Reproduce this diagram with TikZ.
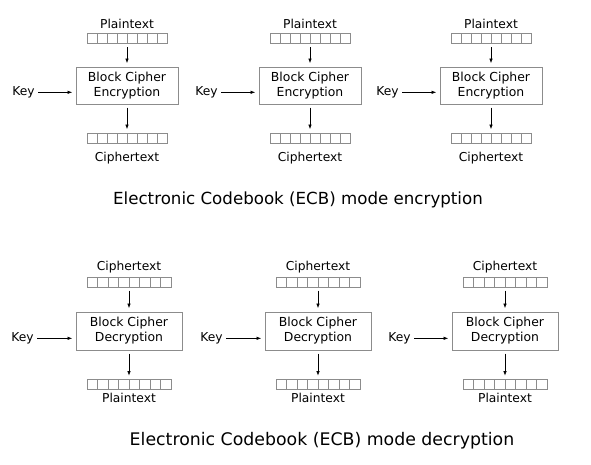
\documentclass[tikz,border=0pt]{standalone}
\usepackage{fontspec}
\setmainfont{DejaVu Sans}
\usetikzlibrary{calc}
\usetikzlibrary{arrows.meta}

\tikzset{
  lbl/.style={font=\fontsize{9.2}{11}\selectfont, inner sep=0pt, anchor=base},
  cipherbox/.style={draw=black!45, line width=0.6pt, align=center, inner sep=0pt,
    minimum width=76.5pt, minimum height=27.75pt, font=\fontsize{9.3}{11.25}\selectfont},
  register/.style={draw=black!45, line width=0.6pt, inner sep=0pt,
    minimum width=60pt, minimum height=7.5pt,
    path picture={\foreach \k in {1,...,7}{
      \draw[black!45, line width=0.6pt]
        ($(path picture bounding box.south west)!\k/8!(path picture bounding box.south east)$) --
        ($(path picture bounding box.north west)!\k/8!(path picture bounding box.north east)$);}}},
  flow/.style={-{Latex[length=3.5pt,width=2.6pt]}, line width=0.5pt, shorten >=2.5pt, shorten <=2.5pt},
  headline/.style={font=\fontsize{12.5}{15}\selectfont, inner sep=0pt, anchor=base}
}

\begin{document}
\begin{tikzpicture}[x=0.75pt,y=-0.75pt]
  \useasboundingbox (0,0) rectangle (591,464);
  % encryption, block 1
  \node[lbl] (pa1) at (127,28) {Plaintext};
  \node[register] (ra1) at (127,38.5) {};
  \node[cipherbox] (ea1) at (127,85.5) {Block Cipher\\Encryption};
  \node[register] (rb1) at (127,138) {};
  \node[lbl] (ca1) at (127,161) {Ciphertext};
  \node[lbl] (ka1) at (23.5,95.5) {Key};
  \draw[flow] (ra1) -- (ea1);
  \draw[flow] (ea1) -- (rb1);
  \draw[flow] (ka1.east) -- (ka1.east -| ea1.west);
  % encryption, block 2
  \node[lbl] (pa2) at (310,28) {Plaintext};
  \node[register] (ra2) at (310,38.5) {};
  \node[cipherbox] (ea2) at (310,85.5) {Block Cipher\\Encryption};
  \node[register] (rb2) at (310,138) {};
  \node[lbl] (ca2) at (310,161) {Ciphertext};
  \node[lbl] (ka2) at (206.5,95.5) {Key};
  \draw[flow] (ra2) -- (ea2);
  \draw[flow] (ea2) -- (rb2);
  \draw[flow] (ka2.east) -- (ka2.east -| ea2.west);
  % encryption, block 3
  \node[lbl] (pa3) at (491,28) {Plaintext};
  \node[register] (ra3) at (491,38.5) {};
  \node[cipherbox] (ea3) at (491,85.5) {Block Cipher\\Encryption};
  \node[register] (rb3) at (491,138) {};
  \node[lbl] (ca3) at (491,161) {Ciphertext};
  \node[lbl] (ka3) at (387.5,95.5) {Key};
  \draw[flow] (ra3) -- (ea3);
  \draw[flow] (ea3) -- (rb3);
  \draw[flow] (ka3.east) -- (ka3.east -| ea3.west);
  \node[headline] (enc) at (298,204) {Electronic Codebook (ECB) mode encryption};

  % decryption, block 1
  \node[lbl] (cd1) at (129,270) {Ciphertext};
  \node[register, minimum width=63pt] (rc1) at (129,282) {};
  \node[cipherbox, minimum width=79.5pt, minimum height=28.5pt] (da1) at (129,331) {Block Cipher\\Decryption};
  \node[register, minimum width=63pt] (rd1) at (129,384.5) {};
  \node[lbl] (pd1) at (129,402.5) {Plaintext};
  \node[lbl] (kd1) at (22.5,341.5) {Key};
  \draw[flow] (rc1) -- (da1);
  \draw[flow] (da1) -- (rd1);
  \draw[flow] (kd1.east) -- (kd1.east -| da1.west);
  % decryption, block 2
  \node[lbl] (cd2) at (318,270) {Ciphertext};
  \node[register, minimum width=63pt] (rc2) at (318,282) {};
  \node[cipherbox, minimum width=79.5pt, minimum height=28.5pt] (da2) at (318,331) {Block Cipher\\Decryption};
  \node[register, minimum width=63pt] (rd2) at (318,384.5) {};
  \node[lbl] (pd2) at (318,402.5) {Plaintext};
  \node[lbl] (kd2) at (211.5,341.5) {Key};
  \draw[flow] (rc2) -- (da2);
  \draw[flow] (da2) -- (rd2);
  \draw[flow] (kd2.east) -- (kd2.east -| da2.west);
  % decryption, block 3
  \node[lbl] (cd3) at (505,270) {Ciphertext};
  \node[register, minimum width=63pt] (rc3) at (505,282) {};
  \node[cipherbox, minimum width=79.5pt, minimum height=28.5pt] (da3) at (505,331) {Block Cipher\\Decryption};
  \node[register, minimum width=63pt] (rd3) at (505,384.5) {};
  \node[lbl] (pd3) at (505,402.5) {Plaintext};
  \node[lbl] (kd3) at (399.5,341.5) {Key};
  \draw[flow] (rc3) -- (da3);
  \draw[flow] (da3) -- (rd3);
  \draw[flow] (kd3.east) -- (kd3.east -| da3.west);
  \node[headline, font=\fontsize{13}{15}\selectfont] (dec) at (322,445) {Electronic Codebook (ECB) mode decryption};
\end{tikzpicture}
\end{document}
